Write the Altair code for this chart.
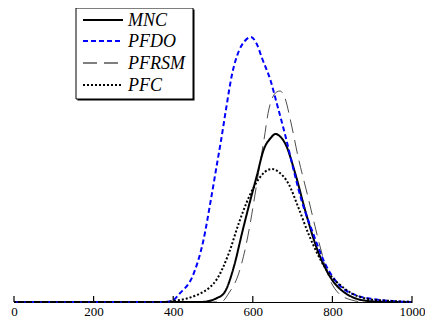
import altair as alt
import pandas as pd

# ---- data (relative heights) ----
pfdo_x = [0, 200, 380, 400, 415, 450, 475, 495, 510, 520, 532, 548, 565, 580, 595, 610, 623, 645, 660, 682, 702, 723, 752, 782, 815, 865, 900, 950, 1000]
pfdo_y = [0, 0, 0, 2, 8, 27, 60, 103, 138, 161, 191, 228, 251, 261, 265, 258, 244, 221, 199, 166, 133, 101, 68, 38, 18, 6, 3, 1, 0]

mnc_x = [0, 470, 490, 510, 528, 553, 573, 590, 610, 628, 645, 657, 670, 682, 707, 732, 757, 790, 832, 890, 950, 1000]
mnc_y = [0, 0, 1, 4, 9, 36, 69, 96, 126, 153, 164, 168, 165, 158, 128, 91, 58, 28, 9, 1, 0, 0]

pfrsm_x = [0, 520, 540, 565, 582, 595, 605, 615, 628, 640, 660, 668, 680, 695, 715, 735, 770, 790, 815, 848, 880, 1000]
pfrsm_y = [0, 0, 9, 29, 55, 82, 106, 131, 162, 192, 210, 211, 205, 181, 143, 111, 54, 26, 9, 2, 0, 0]

pfc_x = [0, 380, 400, 430, 465, 490, 510, 540, 565, 585, 600, 615, 630, 648, 665, 690, 715, 740, 782, 832, 890, 950, 1000]
pfc_y = [0, 0, 1, 3, 8, 14, 23, 49, 79, 100, 113, 123, 130, 133, 130, 118, 94, 68, 34, 13, 3, 1, 0]

series_names = ["MNC", "PFDO", "PFRSM", "PFC"]
series_colors = ["black", "#0000ff", "black", "black"]
series_dash = [[1, 0], [5, 3], [14, 7], [2, 2]]
series_width = [2, 2, 0.7, 2]
legend_width = [2, 2, 1.2, 2]

tick_values = [0, 200, 400, 600, 800, 1000]

W, H = 398, 294
SERIF = "Liberation Serif"

xscale = alt.Scale(domain=[0, 1000], nice=False, zero=False)
yscale = alt.Scale(domain=[0, H], nice=False)

xaxis = alt.Axis(values=tick_values, ticks=False, grid=False, title=None,
                 labelFont=SERIF, labelFontSize=13, labelColor="black",
                 labelPadding=3, labelFlush=False, labelOverlap=False,
                 domainColor="black", domainWidth=1.2, format="d")

layers = []
series_data = [(mnc_x, mnc_y), (pfdo_x, pfdo_y), (pfrsm_x, pfrsm_y), (pfc_x, pfc_y)]
for i, name in enumerate(series_names):
    xs, ys = series_data[i]
    d = pd.DataFrame({"x": xs, "y": ys, "series": name})
    layers.append(alt.Chart(d).mark_line(
        interpolate="monotone", strokeCap="butt", color=series_colors[i],
        strokeDash=series_dash[i], strokeWidth=series_width[i]).encode(
        x=alt.X("x:Q", scale=xscale, axis=xaxis),
        y=alt.Y("y:Q", scale=yscale, axis=None),
    ))

ticks = alt.Chart(pd.DataFrame({"t": tick_values})).mark_rule(color="black", strokeWidth=1.2).encode(
    x=alt.X("t:Q", scale=xscale, axis=xaxis),
    y=alt.value(H - 6),
    y2=alt.value(H),
)
layers.append(ticks)

one = pd.DataFrame({"a": [0]})

# legend box
bx0, bx1, by0, by1 = 62, 179, 0, 91
shadow = alt.Chart(one).mark_rect(color="black").encode(
    x=alt.value(bx0 + 1.5), x2=alt.value(bx1 + 1.5), y=alt.value(by0 + 1.5), y2=alt.value(by1 + 1.5))
box = alt.Chart(one).mark_rect(fill="white", stroke="black", strokeWidth=1).encode(
    x=alt.value(bx0), x2=alt.value(bx1), y=alt.value(by0), y2=alt.value(by1))
layers += [shadow, box]

row_y = [12, 33, 55, 77]
for i, name in enumerate(series_names):
    layers.append(alt.Chart(one).mark_rule(
        color=series_colors[i], strokeDash=series_dash[i], strokeWidth=legend_width[i],
        strokeCap="butt").encode(
        x=alt.value(69), x2=alt.value(109), y=alt.value(row_y[i])))
    layers.append(alt.Chart(one).mark_text(
        text=name, font=SERIF, fontSize=18, fontStyle="italic", color="black",
        align="left", baseline="middle").encode(
        x=alt.value(114), y=alt.value(row_y[i] + 1)))

chart = alt.layer(*layers).properties(
    width=W, height=H,
    autosize=alt.AutoSizeParams(type="none"),
    padding={"left": 6, "top": 0, "right": 13, "bottom": 16},
).configure_view(strokeWidth=0)

chart.save("out.html", embed_options={"renderer": "svg", "actions": False})
